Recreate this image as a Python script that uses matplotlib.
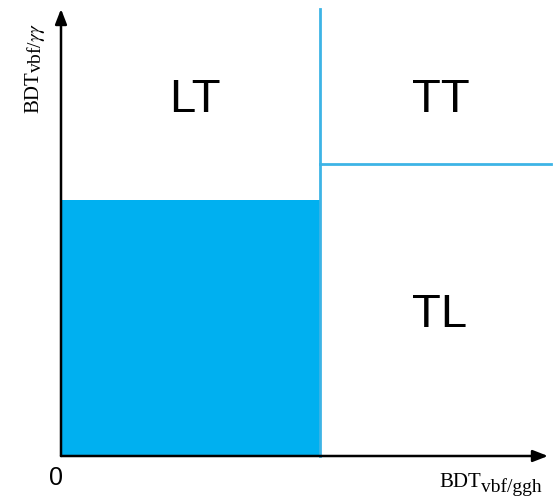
import matplotlib.pyplot as plt
from matplotlib.patches import Rectangle

plt.rcParams["mathtext.fontset"] = "stix"

# Regions of the (BDT_vbf/ggh, BDT_vbf/γγ) plane, in axis fractions
x_cut = 0.532      # vertical boundary
y_cut_tt = 0.653   # TT / TL boundary (right side)
y_fill_top = 0.573 # top of the filled (rejected) region

region_names = ["LT", "TT", "TL"]
region_x = [0.276, 0.780, 0.777]
region_y = [0.770, 0.770, 0.289]

fill_color = "#00B0F0"
line_color = "#3DB4E6"
serif = "Liberation Serif"

fig = plt.figure(figsize=(5.58, 5.01), dpi=100)
ax = fig.add_axes([61 / 558, 45 / 501, 487 / 558, 447 / 501])
ax.set_xlim(0, 1)
ax.set_ylim(0, 1)
ax.axis("off")

# filled region
ax.add_patch(Rectangle((0, 0), x_cut, y_fill_top, facecolor=fill_color,
                       edgecolor="none", zorder=1))

# boundaries
ax.plot([x_cut, x_cut], [0, 1], color=line_color, lw=2, zorder=2,
        clip_on=False)
ax.plot([x_cut, 1.006], [y_cut_tt, y_cut_tt], color=line_color, lw=2,
        zorder=2, clip_on=False)

# axes arrows
arrow = dict(arrowstyle="-|>,head_length=0.9,head_width=0.35", color="black",
             lw=1.8, shrinkA=0, shrinkB=0)
ax.annotate("", xy=(1.0, 0), xytext=(0, 0), arrowprops=arrow,
            annotation_clip=False, zorder=3)
ax.annotate("", xy=(0, 1.0), xytext=(0, 0), arrowprops=arrow,
            annotation_clip=False, zorder=3)

for name, xv, yv in zip(region_names, region_x, region_y):
    ax.text(xv, yv, name, fontsize=34, family="Liberation Sans",
            ha="center", va="baseline")

ax.text(-0.011, -0.065, "0", fontsize=18, family="Liberation Sans",
        ha="center", va="baseline", clip_on=False)

# x label: BDT with subscript vbf/ggh
tx = ax.text(0.776, -0.069, "BDT", fontsize=15, family=serif,
             ha="left", va="baseline", clip_on=False)
ax.annotate("vbf/ggh", xy=(1, 0), xycoords=tx, xytext=(0.3, -3.0),
            textcoords="offset points", fontsize=14, family=serif,
            ha="left", va="bottom", annotation_clip=False)

# y label: BDT with subscript vbf/γγ (italic gamma)
ty = ax.text(-0.047, 0.767, "BDT", fontsize=15, family=serif, rotation=90,
             rotation_mode="anchor", ha="left", va="baseline", clip_on=False)
ax.annotate(r"vbf/$\gamma\gamma$", xy=(1, 1), xycoords=ty, xytext=(3.0, -1.5),
            textcoords="offset points", fontsize=14, family=serif,
            rotation=90, rotation_mode="anchor", ha="left", va="bottom",
            annotation_clip=False)

fig.savefig("out.png", dpi=100)
